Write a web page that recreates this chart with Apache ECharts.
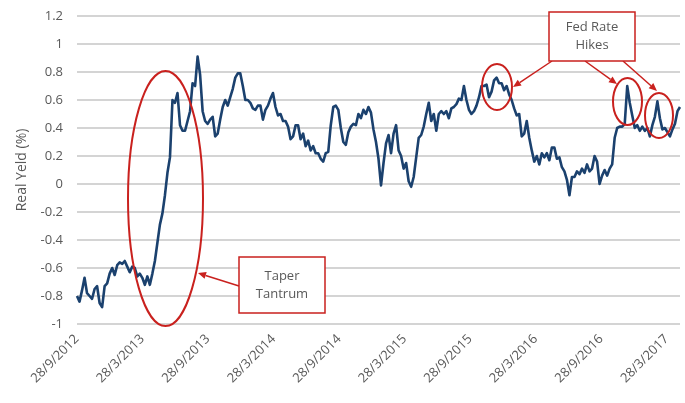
<!DOCTYPE html>
<html>
<head>
<meta charset="utf-8">
<script src="https://cdn.jsdelivr.net/npm/echarts@6/dist/echarts.min.js"></script>
<style>
  html, body { margin: 0; padding: 0; background: #ffffff; }
  #chart { width: 685px; height: 403px; }
</style>
</head>
<body>
<div id="chart"></div>
<script>
// Weekly 10-year TIPS real yield, first observation and spacing
const firstWeek = '2012-09-28';
const weekStepDays = 7;

// Real yield (%), one reading per week
const realYield = [
  -0.80, -0.84, -0.76, -0.67, -0.78, -0.80, -0.82, -0.75, -0.73, -0.85,
  -0.88, -0.73, -0.71, -0.64, -0.60, -0.65, -0.58, -0.56, -0.57, -0.55,
  -0.59, -0.63, -0.59, -0.60, -0.66, -0.64, -0.67, -0.72, -0.66, -0.72,
  -0.64, -0.55, -0.42, -0.29, -0.21, -0.08, 0.08, 0.19, 0.60, 0.58,
  0.65, 0.42, 0.38, 0.38, 0.45, 0.52, 0.72, 0.70, 0.91, 0.78,
  0.52, 0.45, 0.43, 0.46, 0.48, 0.34, 0.36, 0.46, 0.55, 0.60,
  0.56, 0.62, 0.68, 0.76, 0.79, 0.79, 0.70, 0.60, 0.60, 0.58,
  0.54, 0.53, 0.56, 0.56, 0.46, 0.53, 0.56, 0.61, 0.65, 0.55,
  0.49, 0.50, 0.45, 0.45, 0.41, 0.32, 0.34, 0.42, 0.42, 0.32,
  0.36, 0.27, 0.31, 0.24, 0.27, 0.22, 0.22, 0.18, 0.16, 0.22,
  0.23, 0.42, 0.55, 0.56, 0.53, 0.40, 0.30, 0.28, 0.37, 0.41,
  0.43, 0.42, 0.50, 0.47, 0.53, 0.50, 0.55, 0.51, 0.39, 0.30,
  0.18, -0.01, 0.15, 0.29, 0.35, 0.22, 0.36, 0.42, 0.24, 0.20,
  0.11, 0.15, 0.02, -0.02, 0.05, 0.19, 0.33, 0.35, 0.41, 0.50,
  0.58, 0.45, 0.50, 0.38, 0.50, 0.52, 0.50, 0.52, 0.47, 0.54,
  0.55, 0.57, 0.61, 0.60, 0.70, 0.60, 0.53, 0.50, 0.52, 0.56,
  0.62, 0.70, 0.70, 0.71, 0.62, 0.66, 0.74, 0.76, 0.72, 0.72,
  0.67, 0.70, 0.64, 0.60, 0.54, 0.49, 0.50, 0.34, 0.36, 0.45,
  0.33, 0.24, 0.16, 0.20, 0.14, 0.22, 0.19, 0.22, 0.17, 0.26,
  0.26, 0.18, 0.19, 0.12, 0.09, 0.03, -0.08, 0.05, 0.05, 0.09,
  0.07, 0.11, 0.08, 0.14, 0.09, 0.11, 0.20, 0.16, 0.00, 0.06,
  0.10, 0.06, 0.11, 0.14, 0.33, 0.40, 0.41, 0.41, 0.43, 0.70,
  0.58, 0.49, 0.40, 0.42, 0.38, 0.41, 0.38, 0.40, 0.34, 0.42,
  0.48, 0.59, 0.47, 0.39, 0.40, 0.37, 0.34, 0.39, 0.43, 0.52,
  0.55
];

// Date axis labels, every six months
const tickLabels = [
  '28/9/2012', '28/3/2013', '28/9/2013', '28/3/2014', '28/9/2014',
  '28/3/2015', '28/9/2015', '28/3/2016', '28/9/2016', '28/3/2017'
];

// Value axis range and step
const yMin = -1, yMax = 1.2, yStep = 0.2;

// The date axis counts days from the first observation; a half-year step
const halfYearDays = 182.5;

const DAY = 86400000;
function parseIso(s) {
  const p = s.split('-').map(Number);
  return Date.UTC(p[0], p[1] - 1, p[2]);
}
function parseDmy(s) {
  const p = s.split('/').map(Number);
  return Date.UTC(p[2], p[1] - 1, p[0]);
}

const startTs = parseIso(firstWeek);
const seriesData = realYield.map((v, i) => [i * weekStepDays, v]);
const lastDay = seriesData[seriesData.length - 1][0];
const tickDays = tickLabels.map(s => (parseDmy(s) - startTs) / DAY);

const labelFont = 'Open Sans';
const textGrey = '#595959';
const markRed = '#c9211e';

// Annotation helpers: arrow with a filled head
function arrow(x1, y1, x2, y2) {
  const ang = Math.atan2(y2 - y1, x2 - x1);
  const len = 8, half = 3.5;
  const bx = x2 - len * Math.cos(ang), by = y2 - len * Math.sin(ang);
  const px = -Math.sin(ang) * half, py = Math.cos(ang) * half;
  return [
    { type: 'line', silent: true, z: 100,
      shape: { x1: x1, y1: y1, x2: bx, y2: by },
      style: { stroke: markRed, lineWidth: 1.5 } },
    { type: 'polygon', silent: true, z: 100,
      shape: { points: [[x2, y2], [bx + px, by + py], [bx - px, by - py]] },
      style: { fill: markRed } }
  ];
}
function ring(cx, cy, rx, ry) {
  return { type: 'ellipse', silent: true, z: 100,
    shape: { cx: cx, cy: cy, rx: rx, ry: ry },
    style: { fill: 'none', stroke: markRed, lineWidth: 2 } };
}
function callout(x, y, w, h, lines) {
  return { type: 'group', z: 101, children: [
    { type: 'rect', silent: true, z: 101,
      shape: { x: x, y: y, width: w, height: h },
      style: { fill: '#ffffff', stroke: markRed, lineWidth: 1.5 } },
    { type: 'text', silent: true, z: 102,
      style: { x: x + w / 2, y: y + h / 2, text: lines.join('\n'),
        align: 'center', verticalAlign: 'middle', lineHeight: 18,
        font: '13px "' + labelFont + '"', fill: textGrey } }
  ] };
}

const chart = echarts.init(document.getElementById('chart'), null, { renderer: 'canvas' });

chart.setOption({
  animation: false,
  backgroundColor: '#ffffff',
  grid: { left: 77, right: 5, top: 16, bottom: 79, containLabel: false },
  xAxis: {
    type: 'value',
    min: 0,
    max: lastDay,
    interval: halfYearDays,
    axisLine: { show: false },
    axisTick: { show: false },
    splitLine: { show: false },
    axisLabel: {
      rotate: 45,
      margin: 13,
      showMaxLabel: false,
      color: textGrey,
      fontFamily: labelFont,
      fontSize: 13,
      formatter: function (v) {
        const idx = tickDays.findIndex(d => Math.abs(d - v) < 2);
        return idx >= 0 ? tickLabels[idx] : '';
      }
    }
  },
  yAxis: {
    type: 'value',
    min: yMin,
    max: yMax,
    interval: yStep,
    name: 'Real Yeld (%)',
    nameLocation: 'middle',
    nameGap: 48,
    nameRotate: 90,
    nameTextStyle: { color: textGrey, fontFamily: labelFont, fontSize: 14 },
    axisLine: { show: false },
    axisTick: { show: false },
    splitLine: { lineStyle: { color: '#d4d4d4', width: 2 } },
    axisLabel: {
      margin: 14,
      color: textGrey,
      fontFamily: labelFont,
      fontSize: 13,
      formatter: function (v) { return String(Math.round(v * 10) / 10); }
    }
  },
  series: [{
    type: 'line',
    data: seriesData,
    showSymbol: false,
    lineStyle: { color: '#1b416e', width: 2.6, join: 'round' },
    itemStyle: { color: '#1b416e' }
  }],
  graphic: [
    ring(165.5, 198.5, 37.5, 127.5),
    ring(497, 87, 15, 23),
    ring(627.5, 101.5, 14.5, 23.5),
    ring(659, 115.5, 14, 22.5),
    ...arrow(239, 286, 198, 273),
    ...arrow(552, 61, 513, 87),
    ...arrow(585, 61, 617, 84),
    ...arrow(623, 61, 657, 91),
    callout(239, 257, 86, 56, ['Taper', 'Tantrum']),
    callout(549, 12, 86, 49, ['Fed Rate', 'Hikes'])
  ]
});
</script>
</body>
</html>
